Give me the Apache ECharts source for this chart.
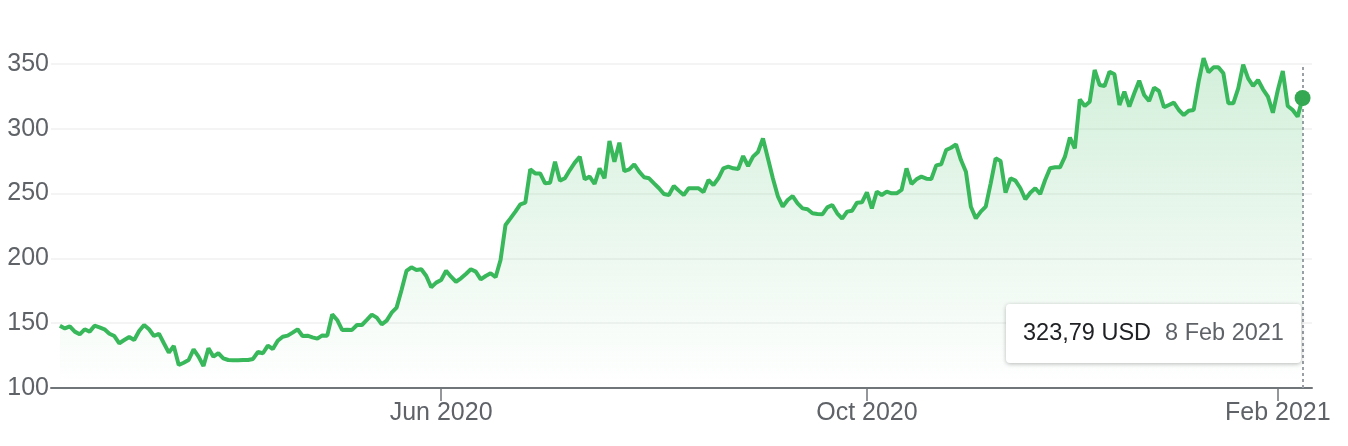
<!DOCTYPE html>
<html>
<head>
<meta charset="utf-8">
<script src="https://cdn.jsdelivr.net/npm/echarts@6/dist/echarts.min.js"></script>
<style>
html,body{margin:0;padding:0;background:#fff;}
#chart{width:1348px;height:446px;}
</style>
</head>
<body>
<div id="chart"></div>
<script>
// Trading-day calendar (NYSE), 10 Feb 2020 .. 8 Feb 2021
const firstDay = '2020-02-10';
const lastDay = '2021-02-08';
const holidays = ['2020-02-17','2020-04-10','2020-05-25','2020-07-03','2020-09-07','2020-11-26','2020-12-25','2021-01-01','2021-01-18'];

// Closing prices (USD), one per trading day
const closes = [
148.1,146.0,147.6,143.5,141.4,145.3,143.5,148.1,146.8,145.3,
141.9,140.1,134.5,137.0,139.4,137.0,144.0,148.6,145.3,140.1,
141.9,134.5,127.3,132.4,117.7,119.5,121.6,129.8,124.2,117.0,
130.6,124.2,126.8,122.9,121.6,121.4,121.4,121.6,121.6,122.4,
127.8,126.8,132.7,130.1,136.5,139.6,140.4,142.7,145.3,140.1,
140.4,139.1,138.1,140.6,140.4,156.8,152.5,144.8,145.0,144.8,
148.6,148.6,152.5,156.6,154.3,149.1,152.0,158.1,162.0,175.6,
190.3,193.1,191.0,191.6,186.4,177.7,181.3,183.3,190.5,185.9,
182.0,184.6,188.0,191.6,189.8,183.8,186.4,188.5,185.4,198.8,
225.8,230.9,236.1,241.7,243.0,268.7,265.6,265.6,257.9,258.4,
274.6,260.0,261.8,268.2,273.9,278.5,261.0,263.1,257.4,269.5,
261.8,290.6,274.6,289.3,267.4,268.7,272.6,266.9,262.6,261.8,
257.9,254.1,249.7,248.9,255.9,252.3,248.9,254.1,254.1,254.1,
251.2,260.5,256.6,261.8,269.5,270.8,269.5,269.0,279.0,271.3,
278.5,282.1,292.6,277.2,261.8,248.1,239.9,245.1,248.1,242.5,
238.6,237.9,234.8,234.3,234.0,239.4,241.2,234.8,230.7,236.1,
236.8,243.0,243.3,251.0,238.6,251.5,248.9,251.5,250.2,250.2,
252.8,269.5,257.4,261.0,263.1,261.5,261.3,271.8,272.6,283.6,
285.4,288.0,275.9,266.9,239.9,230.9,236.1,239.9,257.9,277.2,
275.2,250.7,261.8,260.0,254.1,245.6,250.7,254.1,249.7,260.5,
269.5,270.3,270.3,278.5,293.2,284.9,322.7,317.6,320.9,345.4,
333.8,333.0,344.1,342.0,318.4,328.6,317.1,327.4,337.1,326.1,
321.4,331.7,329.2,316.6,318.4,320.2,314.5,310.6,314.0,314.5,
336.4,354.5,343.6,347.4,347.4,342.8,319.7,319.7,331.2,349.5,
338.9,333.0,337.7,330.5,324.8,312.4,329.9,344.6,317.6,314.5,
309.4,323.79
];

const monthTicks = ['2020-06','2020-10','2021-02'];
const monthNames = ['Jan','Feb','Mar','Apr','May','Jun','Jul','Aug','Sep','Oct','Nov','Dec'];
const currency = 'USD';

// build category dates
function pad(n){return (n<10?'0':'')+n;}
const dates = [];
(function(){
  const d = new Date(firstDay+'T12:00:00Z');
  const end = new Date(lastDay+'T12:00:00Z');
  while (d <= end) {
    const s = d.getUTCFullYear()+'-'+pad(d.getUTCMonth()+1)+'-'+pad(d.getUTCDate());
    const wd = d.getUTCDay();
    if (wd !== 0 && wd !== 6 && holidays.indexOf(s) < 0) dates.push(s);
    d.setUTCDate(d.getUTCDate()+1);
  }
})();

const tickIdx = monthTicks.map(m => dates.findIndex(s => s.indexOf(m) === 0));
function monthLabel(s){const p=s.split('-');return monthNames[+p[1]-1]+' '+p[0];}
function dayLabel(s){const p=s.split('-');return (+p[2])+' '+monthNames[+p[1]-1]+' '+p[0];}

const lineData = closes.map((v,i)=>[i,v]);
const lastI = closes.length-1;

const chart = echarts.init(document.getElementById('chart'), null, {renderer:'canvas'});
const green = '#34a853';
const font = 'Liberation Sans, Arial, sans-serif';
chart.setOption({
  animation:false,
  textStyle:{fontFamily:font},
  grid:{left:51,right:36,top:64,bottom:58,containLabel:false},
  xAxis:{
    type:'value',
    min:-1.8, max:252.9,
    splitLine:{show:false},
    axisLine:{show:true,lineStyle:{color:'#70757a',width:2}},
    axisTick:{show:true,customValues:tickIdx,length:13,lineStyle:{color:'#70757a',width:1.5}},
    axisLabel:{customValues:tickIdx,margin:13,fontSize:25,color:'#5f6368',
      formatter:v=>monthLabel(dates[Math.round(v)])},
  },
  yAxis:{
    type:'value',min:100,max:350,interval:50,
    axisLine:{show:false},axisTick:{show:false},
    splitLine:{lineStyle:{color:'#f0f0f0',width:1.5}},
    axisLabel:{margin:2,fontSize:25,color:'#5f6368'}
  },
  tooltip:{
    trigger:'axis',
    alwaysShowContent:true,
    position:[1006,304],
    backgroundColor:'#fff',
    borderWidth:0,
    padding:[14,17],
    extraCssText:'box-shadow:0 1px 4px rgba(0,0,0,0.28);border-radius:4px;line-height:28px;',
    axisPointer:{type:'line',snap:true,z:1,lineStyle:{color:'#9aa0a6',type:[3,3],width:2},label:{show:false}},
    formatter:function(ps){
      const p = Array.isArray(ps)?ps[0]:ps;
      const i = p.data[0];
      const val = closes[i].toFixed(2).replace('.',',');
      return '<span style="font-size:23.5px;color:#202124;font-family:Liberation Sans,Arial">'+val+' '+currency+'</span>'+
             '<span style="font-size:23.5px;color:#5f6368;margin-left:14px;font-family:Liberation Sans,Arial">'+dayLabel(dates[i])+'</span>';
    }
  },
  series:[
    {
      type:'line',
      data:lineData,
      showSymbol:false,
      symbol:'none',
      clip:false,
      lineStyle:{color:green,width:4},
      areaStyle:{color:new echarts.graphic.LinearGradient(0,0,0,1,[
        {offset:0,color:'rgba(52,168,83,0.32)'},
        {offset:1,color:'rgba(52,168,83,0.0)'}
      ])},
      z:2
    },
    {
      type:'scatter',
      data:[[lastI,closes[lastI]]],
      symbolSize:16,
      itemStyle:{color:green,opacity:1},
      emphasis:{disabled:true},
      z:3,
      tooltip:{show:false}
    }
  ]
});
chart.dispatchAction({type:'showTip',seriesIndex:0,dataIndex:lastI});
</script>
</body>
</html>
